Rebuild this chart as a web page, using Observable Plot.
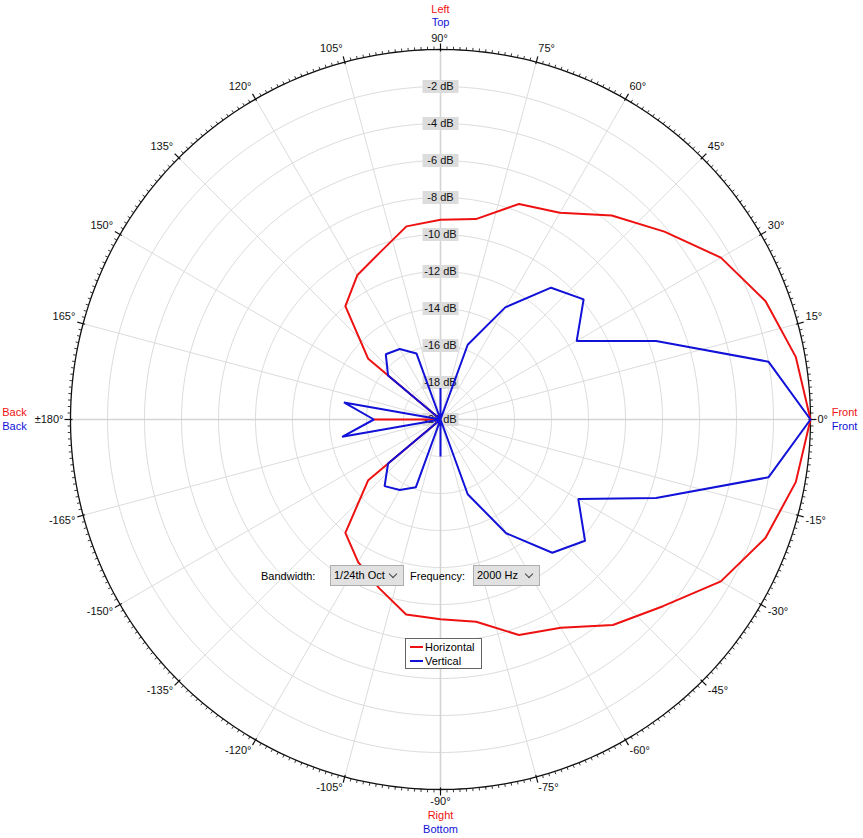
<!DOCTYPE html>
<html><head><meta charset="utf-8">
<script src="https://cdn.jsdelivr.net/npm/d3@7"></script>
<script src="https://cdn.jsdelivr.net/npm/@observablehq/plot@0.6"></script>
<style>
body{margin:0;background:#fff;font-family:"Liberation Sans",Arial,sans-serif;}
#wrap{position:relative;width:863px;height:838px;overflow:hidden;}
#chart svg{display:block;}
.lbl{position:absolute;font-size:11px;color:#000;line-height:14px;white-space:nowrap;}
.combo{position:absolute;box-sizing:border-box;height:21px;border:1px solid #adadad;background:#e1e1e1;font-size:11px;line-height:19px;padding-left:3px;color:#000;white-space:nowrap;overflow:hidden;}
.chev{position:absolute;right:7px;top:5px;width:5px;height:5px;border-right:1px solid #444;border-bottom:1px solid #444;transform:rotate(45deg);}
.legend{position:absolute;left:405px;top:638px;width:77px;height:31px;box-sizing:border-box;border:1px solid #646464;background:#fff;font-size:11px;}
.legend .row{position:absolute;left:3px;height:14px;line-height:14px;}
.legend .sw{position:absolute;left:1px;top:6px;width:13px;height:2px;}
.legend .tx{position:absolute;left:16px;top:0;white-space:nowrap;}
</style></head>
<body><div id="wrap"><div id="chart"></div>
<div class="lbl" style="left:261px;top:569px">Bandwidth:</div>
<div class="combo" style="left:330px;top:565px;width:74px">1/24th Oct<span class="chev"></span></div>
<div class="lbl" style="left:410px;top:569px">Frequency:</div>
<div class="combo" style="left:473px;top:565px;width:67px">2000 Hz<span class="chev"></span></div>
<div class="legend">
  <div class="row" style="top:1px"><div class="sw" style="background:#ee1111"></div><div class="tx">Horizontal</div></div>
  <div class="row" style="top:15px"><div class="sw" style="background:#1111d8"></div><div class="tx">Vertical</div></div>
</div>
</div>
<script>
// ---- data ----
const angles = [0,10,20,30,40,50,60,70,80,90,100,110,120,130,140,150,160,170,180,190,200,210,220,230,240,250,260,270,280,290,300,310,320,330,340,350];
const horizontal = [0,-0.5,-1.3,-2.5,-4.2,-5.6,-7.1,-7.6,-9.0,-9.2,-9.4,-10.4,-11.0,-12.0,-14.9,-20,-20,-20,-16.4,-20,-20,-20,-14.9,-12.0,-11.1,-10.3,-9.3,-9.2,-8.9,-7.6,-7.0,-5.5,-4.3,-2.5,-1.3,-0.5];
const vertical = [0,-2.0,-7.6,-11.5,-9.9,-10.7,-13.0,-15.7,-20,-18.3,-20,-16.2,-15.6,-15.4,-16.3,-20,-20,-14.7,-16.4,-14.6,-20,-20,-16.3,-15.3,-15.6,-16.1,-20,-18.0,-20,-15.7,-12.9,-10.6,-9.8,-11.4,-7.6,-2.0];
const seriesNames = ["Horizontal","Vertical"];
const seriesColors = ["#ee1111","#1111d8"];
const dbTicks = [-2,-4,-6,-8,-10,-12,-14,-16,-18,-20];
const dbRings = [-2,-4,-6,-8,-10,-12,-14,-16,-18];
const angleTicks = [0,15,30,45,60,75,90,105,120,135,150,165,180,195,210,225,240,255,270,285,300,315,330,345];
const angleLabels = ["0°","15°","30°","45°","60°","75°","90°","105°","120°","135°","150°","165°","±180°","-165°","-150°","-135°","-120°","-105°","-90°","-75°","-60°","-45°","-30°","-15°"];
const minDb = -20, maxDb = 0;

// ---- geometry helpers ----
const R = 370; // px for radius 1 (used only to convert label offsets)
const rad = db => (Math.max(db, minDb) - minDb) / (maxDb - minDb);
const px = p => p / R;
const cx = (a, r) => r * Math.cos(a * Math.PI / 180);
const cy = (a, r) => r * Math.sin(a * Math.PI / 180);

const rows = [];
seriesNames.forEach((s, si) => {
  const vals = si === 0 ? horizontal : vertical;
  angles.concat([angles[0]]).forEach((a, i) => rows.push({series: s, angle: a, db: vals[i % angles.length]}));
});

const ringPts = [];
dbRings.concat([maxDb]).forEach(db => { for (let a = 0; a <= 360; a += 1) ringPts.push({db, a}); });
const minorTicks = d3.range(0, 360, 1).filter(a => a % 15 !== 0);

const boxSymbol = {draw(ctx) { ctx.moveTo(-18, -6.5); ctx.lineTo(18, -6.5); ctx.lineTo(18, 6.5); ctx.lineTo(-18, 6.5); ctx.closePath(); }};

const lab = angleTicks.map((a, i) => ({a, t: angleLabels[i]}));
const labR = 1 + px(8);
// groups of angle labels by placement around the dial
const groups = [
  {f: a => a === 0, textAnchor: "start", lineAnchor: "middle", dx: -1, dy: 0},
  {f: a => a === 180, textAnchor: "end", lineAnchor: "middle", dx: 1, dy: 0},
  {f: a => a === 90, textAnchor: "middle", lineAnchor: "bottom", dx: -1, dy: 0},
  {f: a => a === 270, textAnchor: "middle", lineAnchor: "top", dx: 0, dy: 0},
  {f: a => a > 0 && a < 90, textAnchor: "start", lineAnchor: "bottom", dx: 0, dy: -2},
  {f: a => a > 90 && a < 180, textAnchor: "end", lineAnchor: "bottom", dx: 0, dy: -2},
  {f: a => a > 180 && a < 270, textAnchor: "end", lineAnchor: "top", dx: 0, dy: -1},
  {f: a => a > 270, textAnchor: "start", lineAnchor: "top", dx: 0, dy: -1}
];

const sideLabels = [
  {t: "Left", a: 90, r: 1 + px(40), c: seriesColors[0]},
  {t: "Top", a: 90, r: 1 + px(27), c: seriesColors[1]},
  {t: "Right", a: 270, r: 1 + px(26), c: seriesColors[0]},
  {t: "Bottom", a: 270, r: 1 + px(40), c: seriesColors[1]}
];
const sideLabels2 = [
  {t: "Back", x: -1 - px(56), y: px(7), c: seriesColors[0]},
  {t: "Back", x: -1 - px(56), y: -px(7), c: seriesColors[1]},
  {t: "Front", x: 1 + px(34), y: px(7), c: seriesColors[0]},
  {t: "Front", x: 1 + px(34), y: -px(7), c: seriesColors[1]}
];

const chart = Plot.plot({
  width: 863, height: 838,
  marginLeft: 70, marginRight: 53, marginTop: 49, marginBottom: 49,
  x: {domain: [-1, 1], axis: null},
  y: {domain: [-1, 1], axis: null},
  style: {fontFamily: "'Liberation Sans', Arial, sans-serif", fontSize: "11px", background: "#fff", overflow: "visible"},
  marks: [
    // rings
    Plot.line(ringPts.filter(d => d.db !== maxDb), {x: d => cx(d.a, rad(d.db)), y: d => cy(d.a, rad(d.db)), z: "db", stroke: "#dcdcdc", strokeWidth: 1}),
    // radial spokes
    Plot.link(angleTicks, {x1: () => 0, y1: () => 0, x2: a => cx(a, 1), y2: a => cy(a, 1), stroke: a => (a % 90 === 0 ? "#d4d4d4" : "#dcdcdc"), strokeWidth: a => (a % 90 === 0 ? 1.6 : 1)}),
    // outer circle
    Plot.line(ringPts.filter(d => d.db === maxDb), {x: d => cx(d.a, 1), y: d => cy(d.a, 1), stroke: "#111", strokeWidth: 1.3}),
    // ticks
    Plot.link(minorTicks, {x1: a => cx(a, 1), y1: a => cy(a, 1), x2: a => cx(a, 1 + px(3)), y2: a => cy(a, 1 + px(3)), stroke: "#222", strokeWidth: 0.9}),
    Plot.link(angleTicks, {x1: a => cx(a, 1 - px(2)), y1: a => cy(a, 1 - px(2)), x2: a => cx(a, 1 + px(6)), y2: a => cy(a, 1 + px(6)), stroke: "#111", strokeWidth: 1.2}),
    // angle labels
    ...groups.map(g => Plot.text(lab.filter(d => g.f(d.a)), {x: d => cx(d.a, labR), y: d => cy(d.a, labR), text: "t", fill: "#111", fontSize: 11, textAnchor: g.textAnchor, lineAnchor: g.lineAnchor, dx: g.dx, dy: g.dy})),
    // side labels
    Plot.text(sideLabels, {x: d => cx(d.a, d.r), y: d => cy(d.a, d.r), text: "t", fill: "c", fontSize: 11}),
    Plot.text(sideLabels2, {x: "x", y: "y", text: "t", fill: "c", fontSize: 11}),
    // dB labels with grey boxes
    Plot.dot(dbTicks, {x: () => 0, y: d => rad(d), symbol: boxSymbol, fill: "#dcdcdc", r: 5}),
    Plot.text(dbTicks, {x: () => 0, y: d => rad(d), text: d => `${d} dB`, fill: "#111", fontSize: 11}),
    // data
    Plot.line(rows, {x: d => cx(d.angle, rad(d.db)), y: d => cy(d.angle, rad(d.db)), z: "series", stroke: d => seriesColors[seriesNames.indexOf(d.series)], strokeWidth: 2, curve: "linear", strokeLinejoin: "miter"})
  ]
});
document.getElementById("chart").appendChild(chart);
</script>
</body></html>
